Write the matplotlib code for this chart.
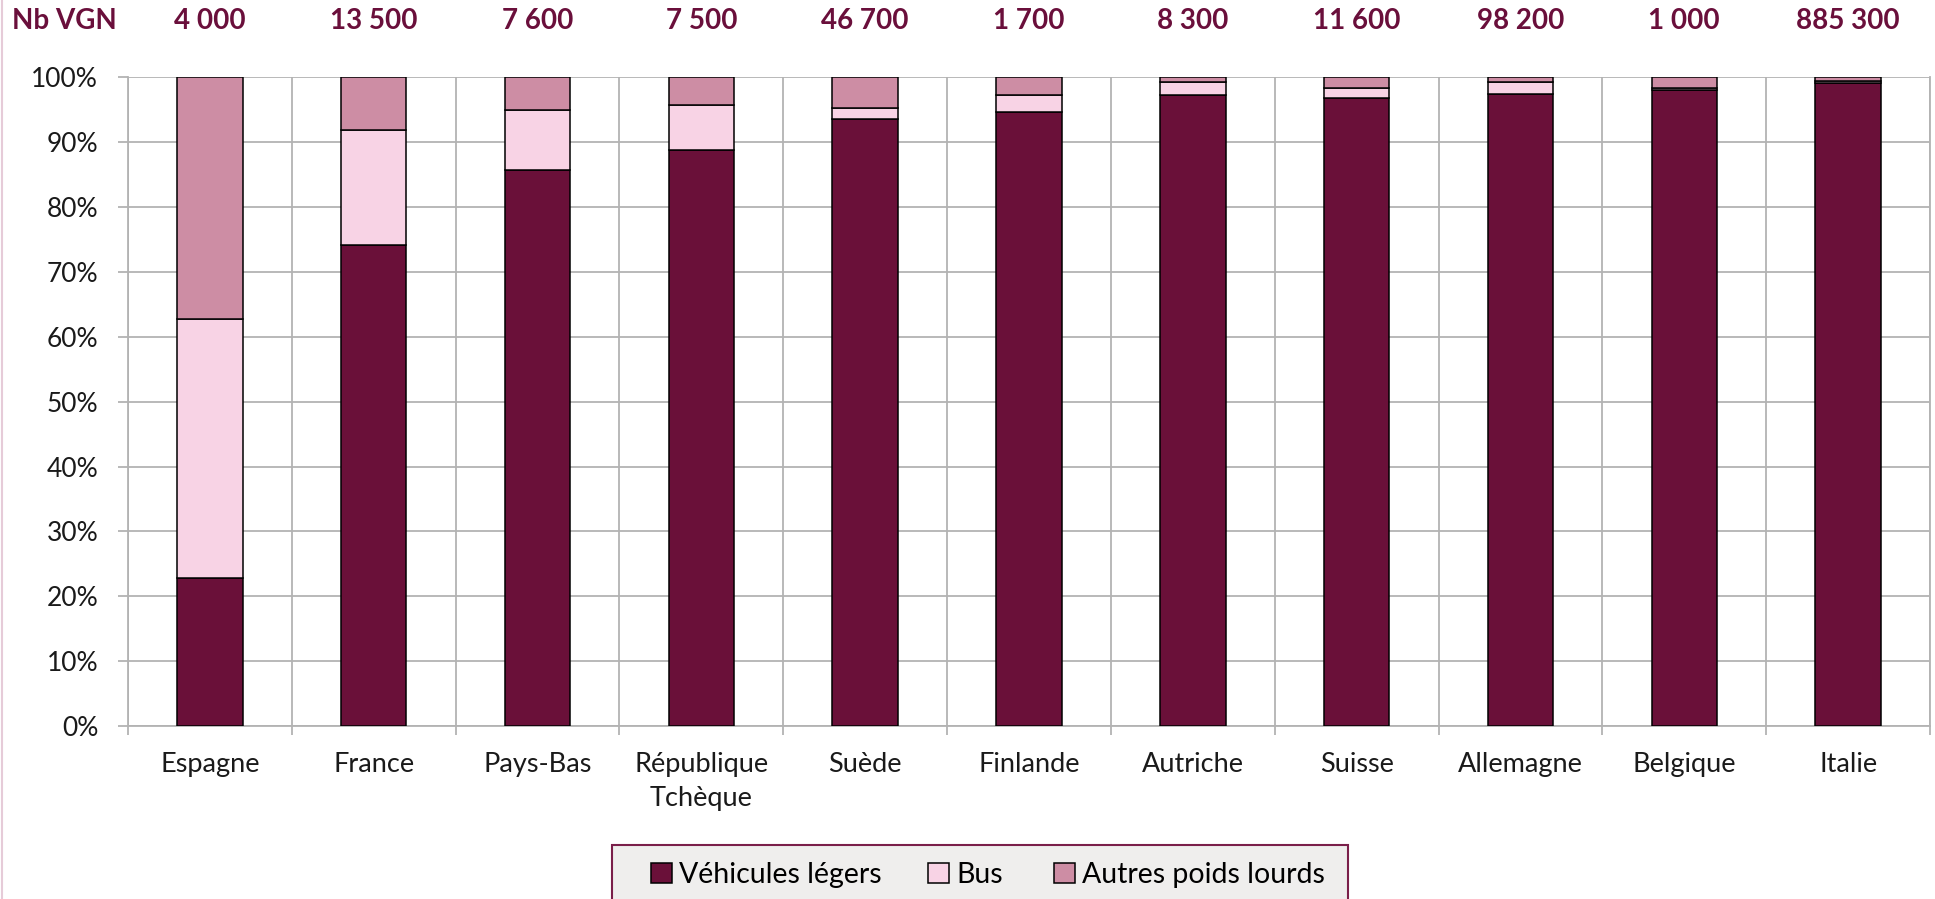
import matplotlib
matplotlib.use("Agg")
import matplotlib.pyplot as plt
from matplotlib.patches import Rectangle, Patch
from matplotlib.lines import Line2D
import matplotlib.transforms as mtransforms
import numpy as np

plt.rcParams['font.family'] = ['Lato', 'DejaVu Sans']

countries = ["Espagne", "France", "Pays-Bas", "République\nTchèque", "Suède", "Finlande",
             "Autriche", "Suisse", "Allemagne", "Belgique", "Italie"]
nb_vgn = ["4 000", "13 500", "7 600", "7 500", "46 700", "1 700", "8 300", "11 600",
          "98 200", "1 000", "885 300"]
vl = [22.8, 74.1, 85.7, 88.8, 93.6, 94.7, 97.2, 96.8, 97.4, 98.0, 99.1]
bus = [40.0, 17.7, 9.2, 6.9, 1.7, 2.6, 2.1, 1.5, 1.8, 0.4, 0.4]
autres = [37.2, 8.2, 5.1, 4.3, 4.7, 2.7, 0.7, 1.7, 0.8, 1.6, 0.5]
series_names = ["Véhicules légers", "Bus", "Autres poids lourds"]
colors = ["#6a1039", "#f8d3e5", "#cd8da4"]
yticks = [0, 10, 20, 30, 40, 50, 60, 70, 80, 90, 100]

W, H = 1935, 899
fig = plt.figure(figsize=(W / 100, H / 100), dpi=100)
ax = fig.add_axes([128 / W, 1 - 726 / H, (1930 - 128) / W, (726 - 77.3) / H])

x = np.arange(len(countries))
grid_c = "#b3b3b3"
ax.set_xlim(-0.5, len(countries) - 0.5)
ax.set_ylim(0, 100)
ax.set_yticks(yticks)
ax.set_yticklabels([f"{v}%" for v in yticks])
ax.set_xticks(x)
ax.set_xticklabels(countries, linespacing=1.45)
ax.set_xticks(np.arange(-0.5, len(countries)), minor=True)
ax.grid(True, axis='y', which='major', color=grid_c, lw=1.3)
ax.grid(True, axis='x', which='minor', color=grid_c, lw=1.3)
ax.set_axisbelow(True)
ax.spines['top'].set_visible(False)
for s in ['left', 'bottom', 'right']:
    ax.spines[s].set_color(grid_c)
    ax.spines[s].set_linewidth(1.3)
ax.tick_params(axis='y', which='major', length=7.5, color=grid_c, width=1.3,
               pad=14, labelsize=19, labelcolor='#1a1a1a')
ax.tick_params(axis='x', which='major', length=0, pad=19, labelsize=19.5, labelcolor='#1a1a1a')
ax.tick_params(axis='x', which='minor', length=6.5, color=grid_c, width=1.3)

bottom = np.zeros(len(countries))
for vals, c, name in zip([vl, bus, autres], colors, series_names):
    ax.bar(x, vals, width=0.4, bottom=bottom, color=c, edgecolor='black', linewidth=1.1,
           label=name, zorder=3)
    bottom += np.array(vals)

# header
ylab = 1 - 21 / H
fig.text(12.5 / W, ylab, "Nb VGN", ha='left', va='center', fontsize=20,
         fontweight='bold', color='#6a0f3b')
trans = mtransforms.blended_transform_factory(ax.transData, fig.transFigure)
for xi, t in zip(x, nb_vgn):
    ax.text(xi, ylab, t, transform=trans, ha='center', va='center', fontsize=20,
            fontweight='bold', color='#6a0f3b', clip_on=False)

# left border line
fig.add_artist(Line2D([1.5 / W, 1.5 / W], [0, 1], transform=fig.transFigure,
                      color='#e6cbd8', lw=1.5))

# legend box
fig.add_artist(Rectangle((612 / W, -0.05), (1348 - 612) / W, (899 - 845) / H + 0.05,
                         transform=fig.transFigure, facecolor='#efeeed',
                         edgecolor='#7a1f4a', lw=1.5))
leg_x = [651, 928, 1054]
for lx, c, name in zip(leg_x, colors, series_names):
    h = Patch(facecolor=c, edgecolor='black', lw=1.1)
    lg = fig.legend([h], [name], loc='center left', bbox_to_anchor=(lx / W, 1 - 875 / H),
                    frameon=False, fontsize=20.5, handlelength=0.75, handleheight=0.7,
                    handletextpad=0.25, borderpad=0, borderaxespad=0)

fig.savefig("out.png", dpi=100)
